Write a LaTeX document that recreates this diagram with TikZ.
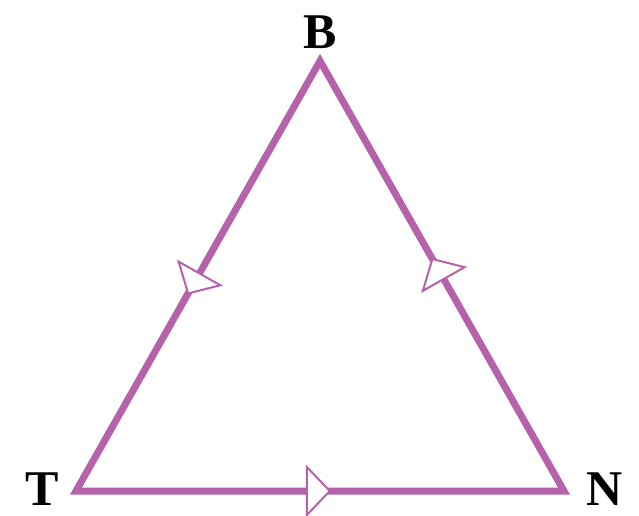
\documentclass[tikz,border=0pt]{standalone}
\usepackage{fontspec}
\setmainfont{Liberation Serif}
\usetikzlibrary{calc}
\definecolor{edgepurple}{RGB}{181,98,170}
\tikzset{
  edge/.style={draw=edgepurple, line width=7pt, line join=miter},
  vlabel/.style={font=\fontsize{50}{50}\selectfont\bfseries, inner sep=0pt, anchor=base},
  openhead/.style={draw=edgepurple, fill=white, line width=2pt, line join=miter}
}
\newcommand{\openarrow}[3]{%
  \coordinate (m) at ($(#1)!#3!(#2)$);
  \draw[openhead] ($(m)!24pt!90:(#2)$) -- ($(m)!23pt!(#2)$) -- ($(m)!24pt!-90:(#2)$) -- cycle;
}
\begin{document}
\begin{tikzpicture}[x=1pt,y=-1pt]
\useasboundingbox (0,0) rectangle (639,515);
\coordinate (B) at (320,61);
\coordinate (T) at (76,491);
\coordinate (N) at (564,491);
\draw[edge] (B) -- (T) -- (N) -- cycle;
\openarrow{B}{T}{0.494}
\openarrow{T}{N}{0.473}
\openarrow{N}{B}{0.493}
\node[vlabel] (lb) at (320,48) {B};
\node[vlabel] (lt) at (42,505) {T};
\node[vlabel] (ln) at (605,505) {N};
\end{tikzpicture}
\end{document}
